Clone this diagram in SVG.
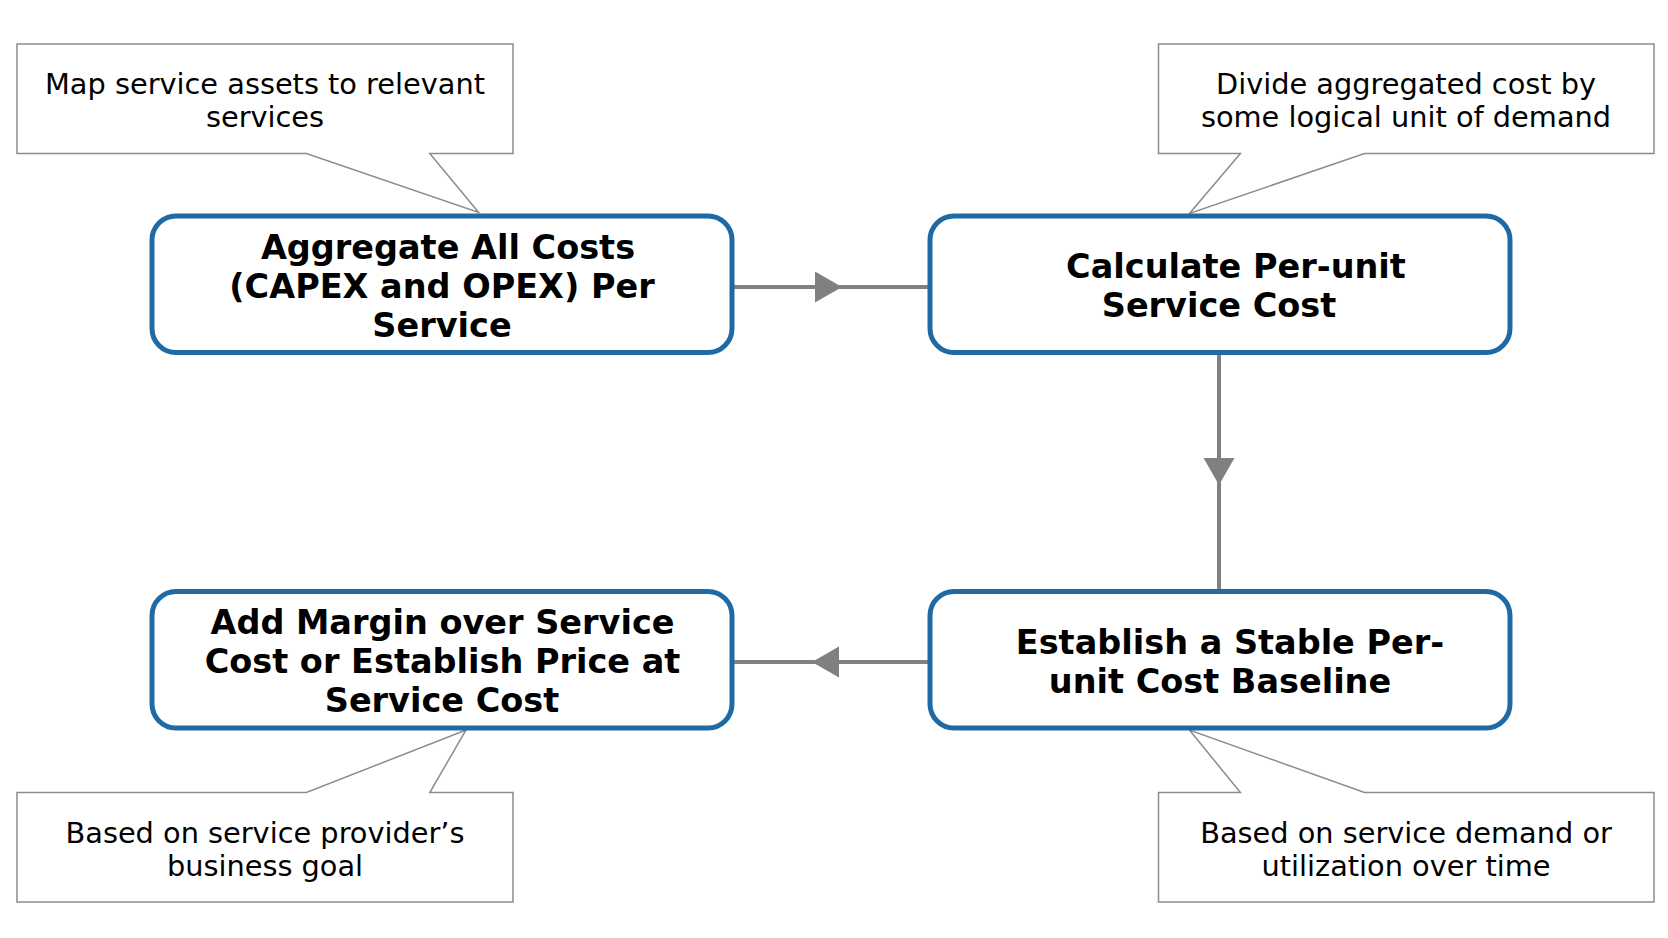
<svg xmlns="http://www.w3.org/2000/svg" width="1668" height="938" viewBox="0 0 1668 938">
<style>
.node{fill:#fff;stroke:#1F6AA4;stroke-width:5}
.callout{fill:#fff;stroke:#8c8c8c;stroke-width:1.5}
.conn{fill:none;stroke:#808080;stroke-width:4}
.nt{font-family:"DejaVu Sans",Verdana,sans-serif;font-weight:bold;font-size:33.5px;fill:#000;text-anchor:middle}
.ct{font-family:"DejaVu Sans",Verdana,sans-serif;font-size:28.8px;fill:#000;text-anchor:middle}
</style>
<defs>
<marker id="ah" markerUnits="userSpaceOnUse" markerWidth="28" markerHeight="32" refX="27" refY="15.5" orient="auto" viewBox="0 0 28 32">
<path d="M0,0 L27,15.5 L0,31 Z" fill="#808080"/>
</marker>
</defs>
<rect width="1668" height="938" fill="#fff"/>
<g id="connectors">
<path class="conn" d="M732,287 L842,287 L930,287" marker-mid="url(#ah)"/>
<path class="conn" d="M1219,352.5 L1219,485 L1219,591.5" marker-mid="url(#ah)"/>
<path class="conn" d="M930,662 L812,662 L732,662" marker-mid="url(#ah)"/>
</g>
<g id="callout-tl">
<path class="callout" d="M17,44 H513 V153.5 H429.8 L478.7,212.5 L306.4,153.5 H17 Z"/>
<text class="ct" x="265" y="94.2">Map service assets to relevant</text>
<text class="ct" x="265" y="127.2">services</text>
</g>
<g id="callout-tr">
<path class="callout" d="M1158.5,44 H1654 V153.5 H1364.5 L1189.5,213.5 L1240.4,153.5 H1158.5 Z"/>
<text class="ct" x="1406" y="94.2">Divide aggregated cost by</text>
<text class="ct" x="1406" y="127.2">some logical unit of demand</text>
</g>
<g id="callout-bl">
<path class="callout" d="M17,792.5 H306.4 L466,730 L429.8,792.5 H513 V902 H17 Z"/>
<text class="ct" x="265" y="843.2">Based on service provider’s</text>
<text class="ct" x="265" y="876.2">business goal</text>
</g>
<g id="callout-br">
<path class="callout" d="M1158.5,792.5 H1240.4 L1189.5,730 L1364.5,792.5 H1654 V902 H1158.5 Z"/>
<text class="ct" x="1406" y="843.2">Based on service demand or</text>
<text class="ct" x="1406" y="876.2">utilization over time</text>
</g>
<g id="node-aggregate">
<rect class="node" x="152" y="216" width="580" height="136.5" rx="24"/>
<text class="nt" x="448" y="259">Aggregate All Costs</text>
<text class="nt" x="442" y="298">(CAPEX and OPEX) Per</text>
<text class="nt" x="442" y="337">Service</text>
</g>
<g id="node-calculate">
<rect class="node" x="930" y="216" width="580" height="136.5" rx="24"/>
<text class="nt" x="1236" y="278">Calculate Per-unit</text>
<text class="nt" x="1219" y="317">Service Cost</text>
</g>
<g id="node-establish">
<rect class="node" x="930" y="591.5" width="580" height="136.5" rx="24"/>
<text class="nt" x="1230" y="653.7">Establish a Stable Per-</text>
<text class="nt" x="1220" y="692.7">unit Cost Baseline</text>
</g>
<g id="node-margin">
<rect class="node" x="152" y="591.5" width="580" height="136.5" rx="24"/>
<text class="nt" x="442.5" y="634">Add Margin over Service</text>
<text class="nt" x="442.5" y="673">Cost or Establish Price at</text>
<text class="nt" x="442" y="712">Service Cost</text>
</g>
</svg>
